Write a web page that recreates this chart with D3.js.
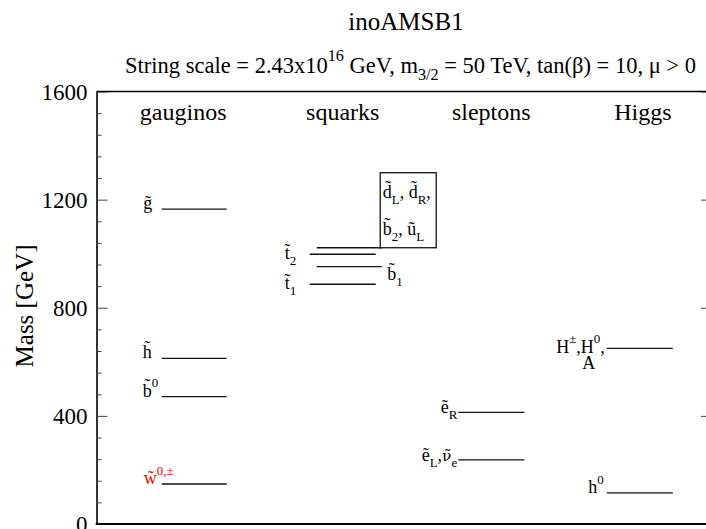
<!DOCTYPE html>
<html>
<head>
<meta charset="utf-8">
<script src="https://cdn.jsdelivr.net/npm/d3@7"></script>
<style>
  body { margin: 0; background: #fff; }
  svg { display: block; }
  text { font-family: "Liberation Serif", "Times New Roman", Times, serif; fill: #000; }
</style>
</head>
<body>
<svg id="chart" width="706" height="529"></svg>
<script>
// ---- data -------------------------------------------------------------
const columns = ["gauginos", "squarks", "sleptons", "Higgs"];
const particles = ["gluino", "higgsino", "bino", "wino",
                   "squarkLight", "stop2", "sbottom1", "stop1",
                   "selectronR", "selectronL",
                   "higgsHeavy", "higgsLight"];
const masses = [1165, 613, 471, 148,
                1022, 998, 952, 887,
                413, 237,
                650, 115];
const columnIndex = [0, 0, 0, 0, 1, 1, 1, 1, 2, 2, 3, 3];
// "~x" puts a tilde over x, "_{..}" is a subscript, "^{..}" a superscript, "|" a new line
const labels = ["~g", "~h", "~b^{0}", "~w^{0,±}",
                "~d_{L}, ~d_{R},|~b_{2}, ~u_{L}", "~t_{2}", "~b_{1}", "~t_{1}",
                "~e_{R}", "~e_{L},~ν_{e}",
                "H^{±},H^{0},|A", "h^{0}"];
const massTicks = [0, 400, 800, 1200, 1600];
const minorStep = 80;
const titleText = "inoAMSB1";
const subtitleText = "String scale = 2.43x10^{16} GeV, m_{3/2} = 50 TeV, tan(β) = 10, μ > 0";
const yAxisTitle = "Mass [GeV]";

// ---- layout -----------------------------------------------------------
const frame = { left: 96.5, right: 712, top: 91.5, bottom: 524 };
const y = d3.scaleLinear().domain([0, 1600]).range([frame.bottom, frame.top]);
const x = d3.scaleLinear().domain([0, 3]).range([194.2, 639.8]);
const headingShift = [-11, 0, 0, 3];

const labelSize = 18;
const std = [-32.5, 32.5];
const layout = {
  gluino:      { span: std, lines: [{ dx: -51, dy: 0, anchor: "start" }] },
  higgsino:    { span: std, lines: [{ dx: -51.5, dy: 0, anchor: "start" }] },
  bino:        { span: std, lines: [{ dx: -51.5, dy: 0, anchor: "start" }] },
  wino:        { span: std, lines: [{ dx: -50.5, dy: 0, anchor: "start" }], color: "#ff0000" },
  squarkLight: { span: [-26, 39], box: { x0: 37.5, x1: 93.5, h: 75 },
                 lines: [{ dx: 40, dy: -49.5, anchor: "start" }, { dx: 40, dy: -12.5, anchor: "start" }] },
  stop2:       { span: [-33, 33], lines: [{ dx: -58, dy: 5, anchor: "start" }] },
  sbottom1:    { span: [-26, 39], lines: [{ dx: 44.5, dy: 13.5, anchor: "start" }] },
  stop1:       { span: [-33, 33], lines: [{ dx: -58, dy: 5, anchor: "start" }] },
  selectronR:  { span: [-33, 33], lines: [{ dx: -34, dy: 1, anchor: "end" }] },
  selectronL:  { span: [-33, 33], lines: [{ dx: -34, dy: 1.5, anchor: "end" }] },
  higgsHeavy:  { span: [-33, 33], lines: [{ dx: -35, dy: 4.5, anchor: "end" }, { dx: -51, dy: 21, anchor: "middle" }] },
  higgsLight:  { span: [-33, 33], lines: [{ dx: -36, dy: 0.5, anchor: "end" }] }
};

const svg = d3.select("#chart");

// ---- rich text helper --------------------------------------------------
// splits the mini markup into runs of normal / subscript / superscript text;
// a tilde becomes the combining tilde U+0303 on the following letter.
// Greek letters with a tilde go into their own run set in DejaVu Serif,
// which places the combining mark over them.
function parseRich(str) {
  const segs = [];
  let i = 0;
  let cur = { text: "", kind: "n" };
  const flush = () => { if (cur.text.length) segs.push(cur); cur = { text: "", kind: "n" }; };
  while (i < str.length) {
    const c = str[i];
    if ((c === "_" || c === "^") && str[i + 1] === "{") {
      flush();
      const end = str.indexOf("}", i);
      segs.push({ text: str.slice(i + 2, end), kind: c === "_" ? "sub" : "sup" });
      i = end + 1;
    } else if (c === "~") {
      const base = str[i + 1];
      if (base.charCodeAt(0) > 0x2ff) {
        flush();
        segs.push({ text: base + "\u0303", kind: "n", font: "DejaVu Serif", scale: 0.86 });
      } else {
        cur.text += base + "\u0303";
      }
      i += 2;
    } else {
      cur.text += c;
      i += 1;
    }
  }
  flush();
  return segs;
}

// one <text> element; each "|"-separated line starts a new text chunk
// at its own position and anchor
function richText(parent, str, opts) {
  const size = opts.size;
  const subShift = size * 0.3, supShift = -size * 0.52, small = size * 0.72;
  const t = parent.append("text")
    .attr("font-size", size)
    .attr("text-anchor", opts.lines[0].anchor || "start")
    .style("fill", opts.color || "#000");
  str.split("|").forEach((line, k) => {
    const pos = opts.lines[k];
    let shift = 0;
    parseRich(line).forEach((seg, j) => {
      const target = seg.kind === "sub" ? subShift : seg.kind === "sup" ? supShift : 0;
      const ts = t.append("tspan").text(seg.text);
      if (j === 0) {
        ts.attr("x", pos.x).attr("y", pos.y + target).attr("text-anchor", pos.anchor || "start");
      } else {
        ts.attr("dy", target - shift);
      }
      if (seg.kind !== "n") ts.attr("font-size", small);
      if (seg.font) ts.style("font-family", seg.font).attr("font-size", size * seg.scale);
      shift = target;
    });
  });
  return t;
}

// ---- titles -----------------------------------------------------------
svg.append("text")
  .attr("x", 406).attr("y", 30)
  .attr("text-anchor", "middle")
  .attr("font-size", 25)
  .text(titleText);

richText(svg, subtitleText, { size: 22.5, lines: [{ x: 410.5, y: 73, anchor: "middle" }] });

svg.append("text")
  .attr("transform", "translate(33,306) rotate(-90)")
  .attr("text-anchor", "middle")
  .attr("font-size", 25)
  .text(yAxisTitle);

// ---- axes & frame -------------------------------------------------------
const minorTicks = d3.range(0, 1600 + 1, minorStep).filter(v => !massTicks.includes(v));

const left = svg.append("g").attr("transform", `translate(${frame.left},0)`);
left.call(d3.axisLeft(y).tickValues(massTicks).tickSizeInner(-11).tickSizeOuter(0)
  .tickPadding(9).tickFormat(d3.format("d")));
left.select(".domain").attr("stroke", "#000").attr("stroke-width", 1.6);
left.selectAll(".tick line").attr("stroke", "#444").attr("stroke-width", 1);
left.selectAll(".tick text").attr("font-size", 23).attr("dy", "0.33em")
  .attr("font-family", "Liberation Serif, Times New Roman, serif").style("fill", "#000");

const leftMinor = svg.append("g").attr("transform", `translate(${frame.left},0)`);
leftMinor.call(d3.axisLeft(y).tickValues(minorTicks).tickSizeInner(-5).tickSizeOuter(0).tickFormat(""));
leftMinor.select(".domain").remove();
leftMinor.selectAll(".tick line").attr("stroke", "#444").attr("stroke-width", 1);

const right = svg.append("g").attr("transform", `translate(${frame.right},0)`);
right.call(d3.axisRight(y).tickValues(massTicks).tickSizeInner(-11).tickSizeOuter(0).tickFormat(""));
right.select(".domain").attr("stroke", "#000").attr("stroke-width", 1.6);
right.selectAll(".tick line").attr("stroke", "#444").attr("stroke-width", 1);

svg.append("line")
  .attr("x1", frame.left).attr("x2", frame.right)
  .attr("y1", frame.top).attr("y2", frame.top)
  .attr("stroke", "#000").attr("stroke-width", 1.6);
svg.append("line")
  .attr("x1", frame.left - 0.8).attr("x2", frame.right)
  .attr("y1", frame.bottom).attr("y2", frame.bottom)
  .attr("stroke", "#000").attr("stroke-width", 2);

// ---- column headings ----------------------------------------------------
svg.append("g").selectAll("text")
  .data(columns)
  .join("text")
  .attr("x", (d, i) => x(i) + headingShift[i])
  .attr("y", 120)
  .attr("text-anchor", "middle")
  .attr("font-size", 24)
  .text(d => d);

// ---- mass levels --------------------------------------------------------
const levels = particles.map((p, i) => ({
  name: p, mass: masses[i], col: columnIndex[i], label: labels[i], lay: layout[p]
}));

const gLevels = svg.append("g");
levels.forEach(d => {
  const cx = x(d.col), ly = y(d.mass);
  gLevels.append("line")
    .attr("x1", cx + d.lay.span[0]).attr("x2", cx + d.lay.span[1])
    .attr("y1", ly).attr("y2", ly)
    .attr("stroke", "#111").attr("stroke-width", 1.3);
  if (d.lay.box) {
    const b = d.lay.box;
    gLevels.append("rect")
      .attr("x", cx + b.x0).attr("y", ly - b.h)
      .attr("width", b.x1 - b.x0).attr("height", b.h)
      .attr("fill", "none").attr("stroke", "#111").attr("stroke-width", 1.3);
  }
  richText(gLevels, d.label, {
    size: labelSize, color: d.lay.color,
    lines: d.lay.lines.map(L => ({ x: cx + L.dx, y: ly + L.dy, anchor: L.anchor }))
  });
});
</script>
</body>
</html>
